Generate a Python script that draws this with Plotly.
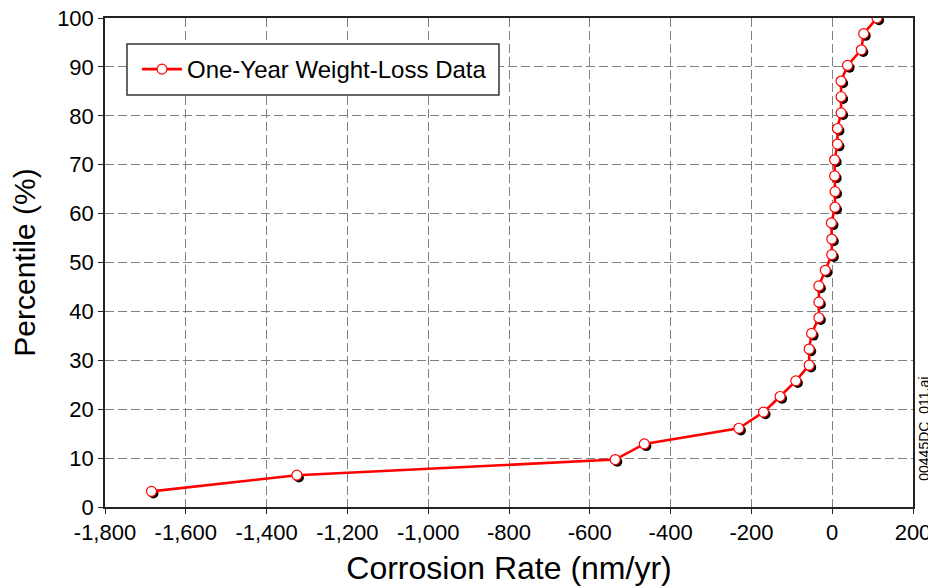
import plotly.graph_objects as go

# percentile of each measured coupon and its corrosion rate (nm/yr)
percentile = [3.2, 6.5, 9.7, 12.9, 16.1, 19.4, 22.6, 25.8, 29.0, 32.3, 35.5,
              38.7, 41.9, 45.2, 48.4, 51.6, 54.8, 58.1, 61.3, 64.5, 67.7,
              71.0, 74.2, 77.4, 80.6, 83.9, 87.1, 90.3, 93.5, 96.8, 100.0]
rate = [-1685, -1325, -537, -465, -231, -170, -129, -90, -57, -57, -51,
        -33, -33, -33, -17, -1, -1, -2, 7, 7, 6,
        6, 13, 13, 22, 22, 22, 38, 72, 78, 111]

x_ticks = [-1800, -1600, -1400, -1200, -1000, -800, -600, -400, -200, 0, 200]
x_labels = ["-1,800", "-1,600", "-1,400", "-1,200", "-1,000", "-800", "-600",
            "-400", "-200", "0", "200"]
y_ticks = [0, 10, 20, 30, 40, 50, 60, 70, 80, 90, 100]

FONT = "Liberation Sans, Arial, sans-serif"

fig = go.Figure()

# drop shadow under the markers (about 2px right / down)
fig.add_trace(go.Scatter(
    x=[v + 5 for v in rate], y=[p - 0.45 for p in percentile],
    mode="markers", showlegend=False, hoverinfo="skip",
    marker=dict(size=10, color="black"),
))

fig.add_trace(go.Scatter(
    x=rate, y=percentile, mode="lines+markers",
    name="One-Year Weight-Loss Data",
    line=dict(color="#ff0000", width=2.6),
    marker=dict(size=10, color="white", line=dict(color="#ff0000", width=1.2)),
))

fig.update_xaxes(
    range=[-1800, 200], tickvals=x_ticks, ticktext=x_labels,
    showline=True, linecolor="#222", linewidth=1.5, mirror=True,
    ticks="outside", ticklen=5, tickcolor="#222", ticklabeloverflow="allow",
    showgrid=True, gridcolor="#808080", gridwidth=1, griddash="9px,4px",
    zeroline=False, tickfont=dict(size=22, color="black"),
    title=dict(text="Corrosion Rate (nm/yr)", font=dict(size=32, color="black"), standoff=12),
)
fig.update_yaxes(
    range=[0, 100], tickvals=y_ticks,
    showline=True, linecolor="#222", linewidth=1.5, mirror=True,
    ticks="outside", ticklen=5, tickcolor="#222", ticklabeloverflow="allow",
    showgrid=True, gridcolor="#808080", gridwidth=1, griddash="9px,4px",
    zeroline=False, tickfont=dict(size=22, color="black"),
    title=dict(text="Percentile (%)", font=dict(size=30, color="black"), standoff=22),
)

# legend frame
fig.add_shape(
    type="rect", xref="paper", yref="paper",
    x0=0.0272, x1=0.4876, y0=0.8425, y1=0.9468,
    fillcolor="white", line=dict(color="#333", width=1.5), layer="above",
)

fig.add_annotation(
    text="00445DC_011.ai", textangle=-90, showarrow=False,
    xref="paper", yref="paper", x=1.0136, y=0.16, xanchor="center", yanchor="middle",
    font=dict(size=14, color="black"),
)

# the page adds an 8px body margin, so the plot box is shifted up/left by 8px
fig.update_layout(
    width=936, height=588,
    margin=dict(l=97, r=31, t=10, b=89, autoexpand=False),
    paper_bgcolor="white", plot_bgcolor="white",
    font=dict(family=FONT, color="black"),
    showlegend=True,
    legend=dict(
        x=0.0396, y=0.8947, xanchor="left", yanchor="middle",
        bgcolor="rgba(0,0,0,0)", borderwidth=0,
        font=dict(size=24), itemwidth=40,
    ),
)

fig.write_html("out.html")
